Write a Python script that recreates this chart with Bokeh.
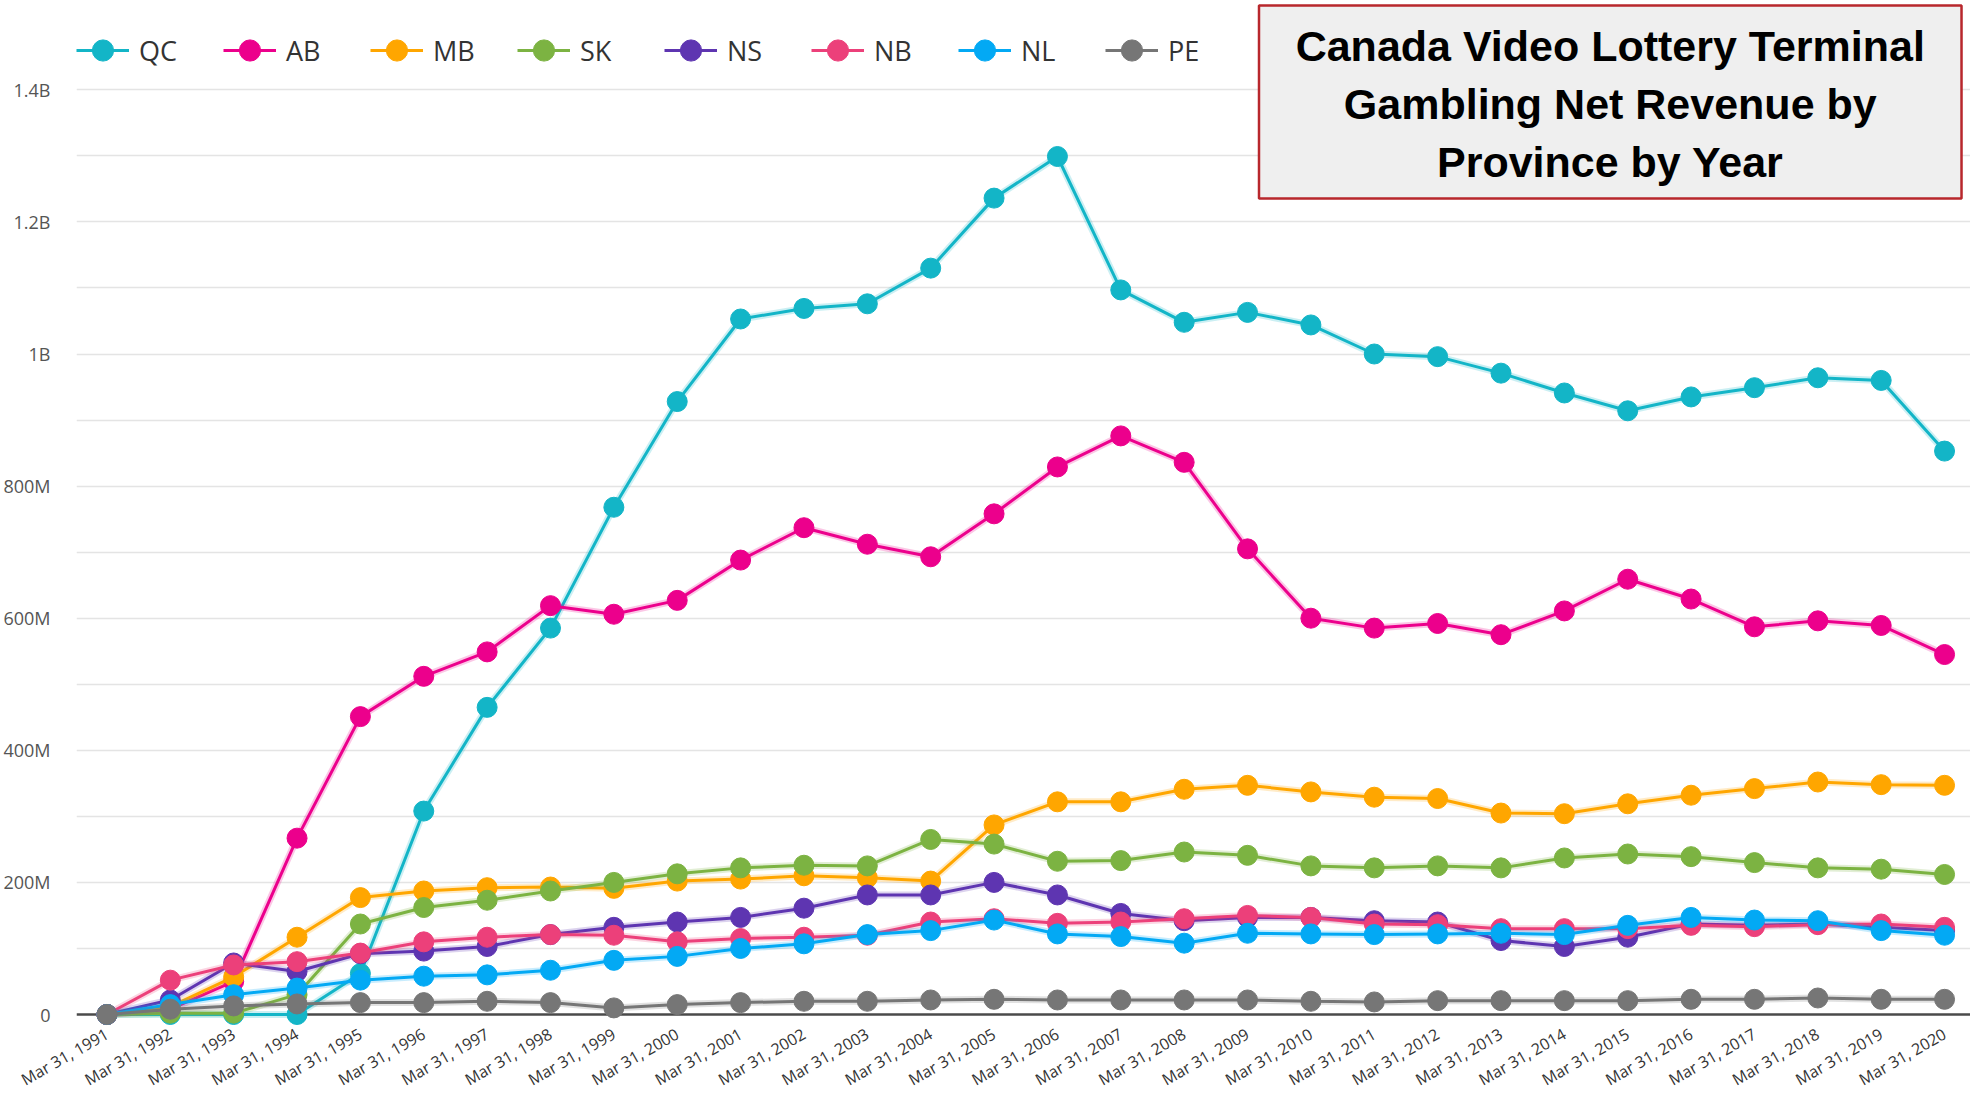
from bokeh.plotting import figure
from bokeh.models import Range1d, FixedTicker, Span, Legend, LegendItem, Label, BoxAnnotation
from bokeh.embed import file_html
from bokeh.resources import INLINE

# ---------------- data (millions of CAD) ----------------
years = list(range(1991, 2021))
x_labels = [f"Mar 31, {y}" for y in years]

QC = [0, 0, 0, 0, 62, 308, 465, 585, 768, 928, 1053, 1069, 1076, 1130, 1236, 1299,
      1097, 1048, 1063, 1044, 1000, 996, 971, 941, 914, 935, 949, 964, 960, 853]
AB = [0, 8, 50, 267, 451, 512, 549, 619, 606, 627, 688, 737, 712, 693, 758, 829,
      876, 836, 705, 600, 585, 592, 575, 611, 659, 629, 587, 596, 589, 545]
MB = [0, 12, 57, 117, 177, 187, 192, 193, 191, 202, 205, 210, 207, 202, 287, 322,
      322, 341, 347, 337, 329, 327, 305, 304, 319, 332, 342, 352, 348, 347]
SK = [0, 2, 2, 30, 137, 162, 173, 187, 200, 213, 222, 226, 225, 265, 258, 232,
      233, 246, 241, 225, 222, 225, 222, 237, 243, 239, 230, 222, 220, 212]
NS = [0, 22, 78, 65, 92, 96, 103, 121, 132, 140, 147, 161, 181, 181, 200, 181,
      153, 142, 147, 147, 142, 140, 112, 103, 117, 137, 135, 137, 132, 127]
NB = [0, 52, 75, 80, 93, 110, 117, 121, 120, 110, 115, 117, 120, 140, 145, 138,
      140, 145, 150, 147, 137, 136, 130, 130, 130, 135, 133, 136, 137, 132]
NL = [0, 15, 30, 40, 52, 58, 60, 67, 82, 88, 100, 107, 121, 127, 143, 122,
      118, 108, 123, 122, 121, 122, 123, 121, 135, 147, 143, 142, 127, 120]
PE = [0, 8, 13, 16, 18, 18, 20, 18, 10, 15, 18, 20, 20, 22, 23, 22,
      22, 22, 22, 20, 19, 21, 21, 21, 21, 23, 23, 25, 23, 23]

names = ["QC", "AB", "MB", "SK", "NS", "NB", "NL", "PE"]
values = [QC, AB, MB, SK, NS, NB, NL, PE]
colors = ["#13B5C7", "#EC008C", "#FFA600", "#7CB342", "#5E35B1", "#EC407A", "#03A9F4", "#767676"]

y_ticks = [0, 200e6, 400e6, 600e6, 800e6, 1000e6, 1200e6, 1400e6]
y_tick_labels = ["0", "200M", "400M", "600M", "800M", "1B", "1.2B", "1.4B"]
grid_ticks = [i * 100e6 for i in range(1, 15)]

title_lines = ["Canada Video Lottery Terminal", "Gambling Net Revenue by", "Province by Year"]

# ---------------- layout (canvas pixels) ----------------
W, H = 1970, 1102
FL, FT, FB, FR = 72, 0, 1026, W           # frame edges
X0_PX, DX = 102.5, 63.5                   # first category position, px per year
Y0_PX, PX_PER_UNIT = 1014, 924.7 / 1.4e9  # zero line position, px per unit


def px2x(c):
    return (c - X0_PX) / DX


def px2y(c):
    return (Y0_PX - c) / PX_PER_UNIT


xs = list(range(len(years)))

p = figure(width=W, height=H,
           x_range=Range1d(px2x(FL), px2x(FR)),
           y_range=Range1d(px2y(FB), px2y(FT)),
           output_backend="svg", toolbar_location=None,
           min_border_left=FL, min_border_right=0, min_border_top=FT,
           min_border_bottom=H - FB, outline_line_color=None)

# grid
p.xgrid.visible = False
p.ygrid.ticker = FixedTicker(ticks=grid_ticks)
p.ygrid.grid_line_color = "#E4E4E4"
p.ygrid.grid_line_width = 1.5

# y axis
p.yaxis.ticker = FixedTicker(ticks=y_ticks)
p.yaxis.major_label_overrides = {int(t): l for t, l in zip(y_ticks, y_tick_labels)}
p.yaxis.axis_line_color = None
p.yaxis.major_tick_line_color = None
p.yaxis.minor_tick_line_color = None
p.yaxis.major_label_standoff = 20
p.yaxis.major_label_text_font = "Open Sans"
p.yaxis.major_label_text_font_size = "18px"
p.yaxis.major_label_text_color = "#555555"

# x axis
p.xaxis.ticker = FixedTicker(ticks=xs)
p.xaxis.major_label_overrides = {i: l for i, l in zip(xs, x_labels)}
p.xaxis.major_label_orientation = 0.52
p.xaxis.axis_line_color = None
p.xaxis.major_tick_line_color = None
p.xaxis.minor_tick_line_color = None
p.xaxis.major_label_standoff = 0
p.xaxis.major_label_text_font = "Open Sans"
p.xaxis.major_label_text_font_size = "16px"
p.xaxis.major_label_text_color = "#333333"

# baseline
p.add_layout(Span(location=0, dimension="width", line_color="#4A4A4A",
                  line_width=2.5, level="underlay"))

items = []
for name, vals, col in zip(names, values, colors):
    ys = [v * 1e6 for v in vals]
    p.line(xs, ys, line_color=col, line_width=7, line_alpha=0.22)
    ln = p.line(xs, ys, line_color=col, line_width=3)
    sc = p.scatter(xs, ys, size=20, fill_color=col, line_color=col, marker="circle")
    items.append(LegendItem(label=name, renderers=[ln, sc]))

legend = Legend(items=items, orientation="horizontal",
                location=(0, FB - 78),
                glyph_width=53, glyph_height=56, label_standoff=10,
                label_width=60, spacing=24, padding=0, margin=0,
                border_line_color=None, background_fill_alpha=0,
                label_text_font="Open Sans", label_text_font_size="27px",
                label_text_color="#333333")
p.add_layout(legend)

# title box
p.add_layout(BoxAnnotation(left=px2x(1257), right=px2x(1961), top=px2y(5), bottom=px2y(198),
                           fill_color="#EFEFEF", fill_alpha=1,
                           line_color="#B8272C", line_alpha=1, line_width=2.5))
for i, t in enumerate(title_lines):
    p.add_layout(Label(x=px2x(1609), y=px2y(45 + 58 * i), text=t,
                       text_align="center", text_baseline="middle",
                       text_font="Liberation Sans", text_font_style="bold",
                       text_font_size="43px", text_color="#000000"))

open("out.html", "w").write(file_html(p, INLINE))
